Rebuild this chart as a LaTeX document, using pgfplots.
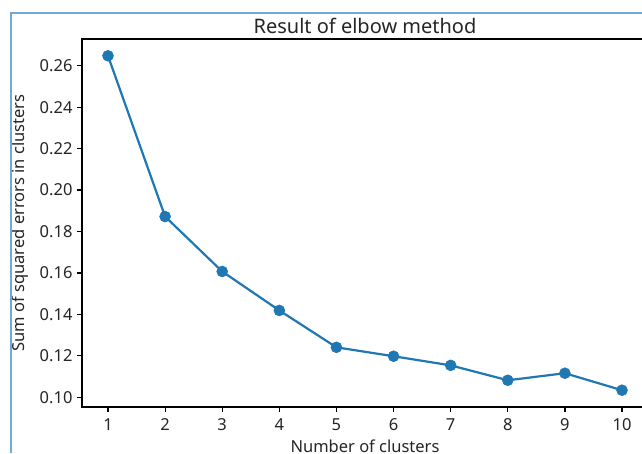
\documentclass[border=0pt]{standalone}
\usepackage{fontspec}
\setmainfont{Noto Sans}
\usepackage{pgfplots}
\pgfplotsset{compat=1.18}
\definecolor{mplblue}{HTML}{1F77B4}
\definecolor{framebl}{HTML}{6FA8DC}
\begin{document}
\begin{tikzpicture}[x=1pt,y=1pt]
\useasboundingbox (0,0) rectangle (642,453);
\clip (0,0) rectangle (642,453);
\fill[white] (0,0) rectangle (642,453);
\begin{axis}[
  at={(82pt,46pt)}, anchor=south west,
  scale only axis, width=566pt, height=368pt,
  xmin=0.545, xmax=10.455, ymin=0.0953, ymax=0.2729,
  xtick={1,...,10},
  ytick={0.10,0.12,0.14,0.16,0.18,0.20,0.22,0.24,0.26},
  yticklabel style={/pgf/number format/fixed, /pgf/number format/fixed zerofill, /pgf/number format/precision=2, xshift=-1pt},
  /pgf/number format/assume math mode=true,
  tick align=outside, tick pos=left,
  major tick length=5pt,
  every tick/.style={black, line width=1.2pt},
  axis line style={black, line width=1.3pt},
  ticklabel style={font=\fontsize{16.5}{19}\selectfont, text=black!85},
  xticklabel style={yshift=-3pt},
  label style={font=\fontsize{16.5}{19}\selectfont, text=black!85},
  xlabel={Number of clusters},
  ylabel={Sum of squared errors in clusters},
  xlabel style={yshift=-2pt},
  ylabel style={yshift=4pt},
  title={Result of elbow method},
  title style={font=\fontsize{20}{23}\selectfont, text=black!85, yshift=-4pt},
  clip=false,
]
\addplot[color=mplblue, line width=2.2pt, mark=*, mark size=5.5pt,
  mark options={fill=mplblue, draw=mplblue, line width=0.5pt}]
  coordinates {
  (1,0.2648) (2,0.1872) (3,0.1607) (4,0.1419) (5,0.1241)
  (6,0.1198) (7,0.1154) (8,0.1082) (9,0.1116) (10,0.1034)
  };
\end{axis}
\draw[framebl, line width=2pt] (11,0) -- (11,440) -- (642,440);
\end{tikzpicture}
\end{document}
